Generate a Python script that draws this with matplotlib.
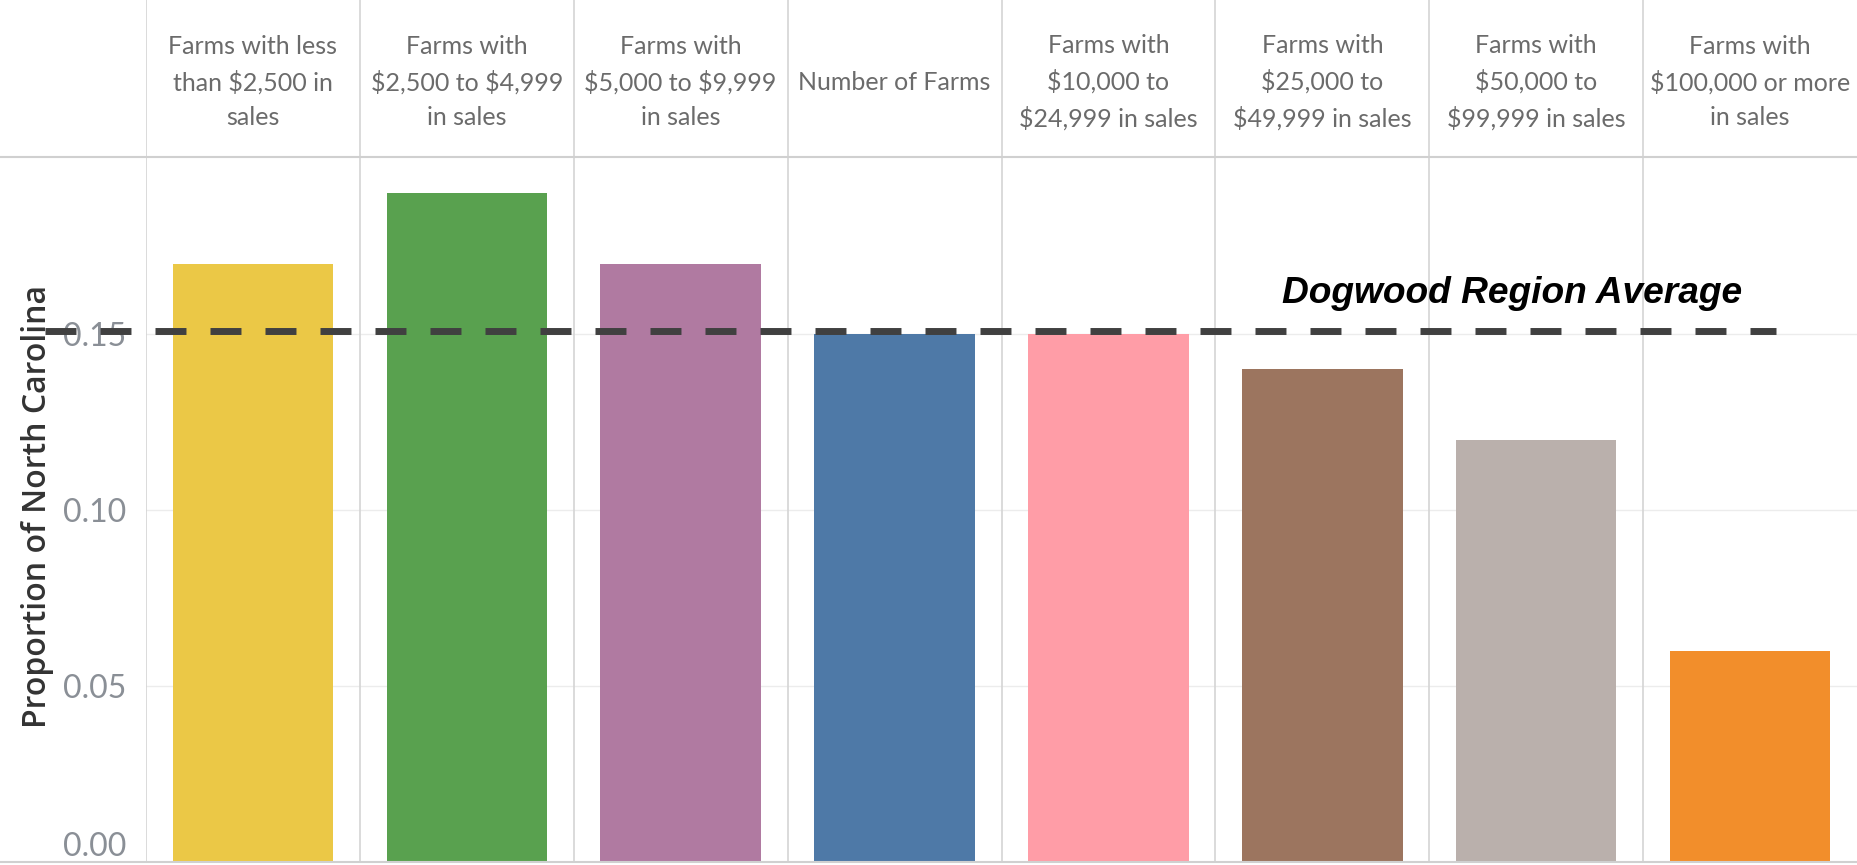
import matplotlib
matplotlib.use("Agg")
import matplotlib.pyplot as plt

# data
categories = [
    "Farms with less\nthan \\$2,500 in\nsales",
    "Farms with\n\\$2,500 to \\$4,999\nin sales",
    "Farms with\n\\$5,000 to \\$9,999\nin sales",
    "Number of Farms",
    "Farms with\n\\$10,000 to\n\\$24,999 in sales",
    "Farms with\n\\$25,000 to\n\\$49,999 in sales",
    "Farms with\n\\$50,000 to\n\\$99,999 in sales",
    "Farms with\n\\$100,000 or more\nin sales",
]
proportions = [0.17, 0.19, 0.17, 0.15, 0.15, 0.14, 0.12, 0.06]
region_average = 0.151
y_ticks = [0.00, 0.05, 0.10, 0.15]
bar_colors = ["#EBC846", "#59A14F", "#B07AA1", "#4E79A7",
              "#FF9DA7", "#9C755F", "#BAB0AC", "#F28E2B"]

W, H = 1857, 865
fig = plt.figure(figsize=(W / 100, H / 100), dpi=100)

left_px, bottom_px, top_px = 146, 862, 157
ax = fig.add_axes([left_px / W, (H - bottom_px) / H, 1 - left_px / W,
                   (bottom_px - top_px) / H])
hdr = fig.add_axes([left_px / W, (H - top_px) / H, 1 - left_px / W, top_px / H],
                   sharex=ax)

n = len(categories)
x = list(range(n))
ax.bar(x, proportions, width=0.75, color=bar_colors, zorder=2)
ax.set_xlim(-0.5, n - 0.5)
ax.set_ylim(0, 0.2003)

# grid + column dividers
for t in y_ticks[1:]:
    ax.axhline(t, color="#ececec", lw=1, zorder=1)
for b in range(n):
    ax.axvline(b - 0.5, color="#d4d4d4", lw=1.2, zorder=1)
    hdr.axvline(b - 0.5, color="#d4d4d4", lw=1.2)

for a in (ax, hdr):
    for s in a.spines.values():
        s.set_visible(False)
    a.tick_params(length=0)
    a.set_xticks([])

hdr.set_yticks([])
hdr.set_ylim(0, 1)

# horizontal rules across the full width
fig.add_artist(plt.Line2D([0, 1], [(H - top_px) / H] * 2, color="#d0d0d0", lw=1.5))
fig.add_artist(plt.Line2D([0, 1], [(H - bottom_px) / H] * 2, color="#d0d0d0", lw=1.5))

# header labels
for i, c in enumerate(categories):
    hdr.text(i, 0.475, c, ha="center", va="center", fontsize=18,
             color="#6b6b6b", family="Lato", linespacing=1.6)

# y ticks
ax.set_yticks(y_ticks)
ax.set_yticklabels([f"{t:.2f}" for t in y_ticks], fontsize=23, color="#8a8f96",
                   family="Lato")
ax.tick_params(axis="y", pad=14)
ax.get_yticklabels()[0].set_va("bottom")
fig.text(38 / W, (H - 506) / H, "Proportion of North Carolina", rotation=90,
         ha="center", va="center", fontsize=23, color="#333333",
         family="Open Sans", fontweight="semibold")

# region average dashed line
ax.plot([-0.972, 7.12], [region_average, region_average], color="#404040",
        lw=5, linestyle=(0, (4.46, 3.46)), dash_capstyle="butt",
        clip_on=False, zorder=3)
ax.text(4.81, region_average + 0.0055, "Dogwood Region Average", fontsize=26.7,
        fontweight="bold", fontstyle="italic", family="Liberation Sans",
        color="black", ha="left", va="bottom", zorder=4)

fig.savefig("out.png", dpi=100)
